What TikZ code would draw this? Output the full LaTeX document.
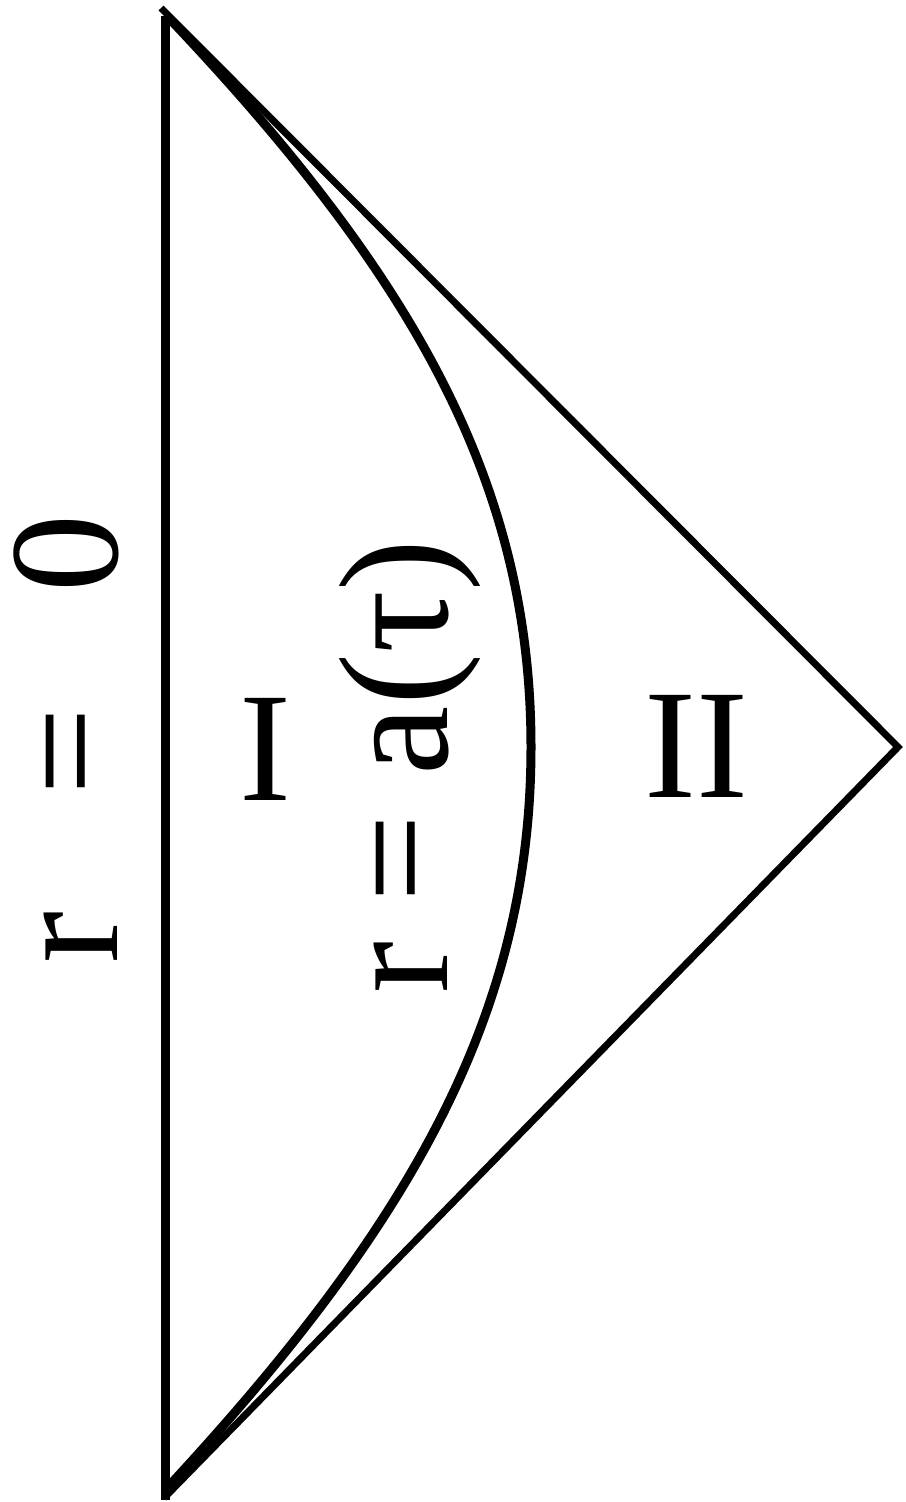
\documentclass[tikz,border=0pt]{standalone}
\usepackage{fontspec}
\setmainfont{Liberation Serif}
\begin{document}
\begin{tikzpicture}[x=1pt,y=-1pt,
  lbl/.style={inner sep=0pt, outer sep=0pt, font=\fontsize{156}{160}\selectfont},
  edge/.style={line width=7pt, line join=miter},
  wall/.style={line width=9pt},
  shell/.style={line width=9pt}]
\useasboundingbox (0,0) rectangle (905,1502);
% corners
\coordinate (wtop) at (165.5,16);
\coordinate (wbot) at (165.5,1500);
\coordinate (top) at (161,8);
\coordinate (apex) at (898,747);
\coordinate (bot) at (164,1498);
\coordinate (ctop) at (167,16);
\coordinate (cmid) at (531,747);
\coordinate (cbot) at (167,1488);
% r = 0 wall
\draw[wall] (wtop) -- (wbot);
% null boundaries
\draw[edge] (top) -- (apex) -- (bot);
% shell r = a(tau)
\draw[shell] (ctop) .. controls (410,272) and (531,480) .. (cmid)
  .. controls (531,1014) and (410,1226) .. (cbot);
% labels
\node[lbl, rotate=90, anchor=base west] (rzero) at (117,963) {r\hspace{0.74em}=\hspace{0.74em}0};
\node[lbl, rotate=90, anchor=base west] (rshell) at (447,993) {r = a(τ)};
\node[lbl, anchor=base] (regI) at (265,800) {I};
\node[lbl, anchor=base] (regII) at (696,797) {II};
\end{tikzpicture}
\end{document}
